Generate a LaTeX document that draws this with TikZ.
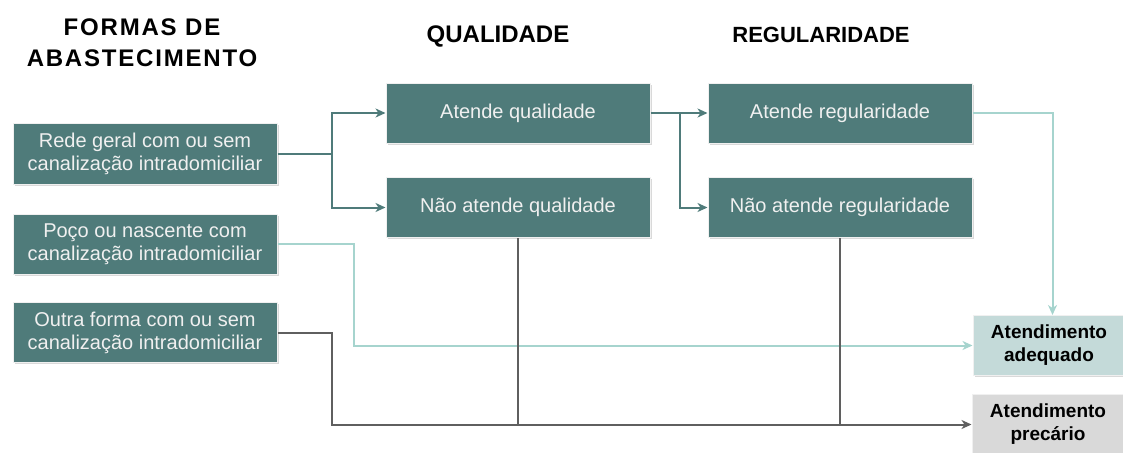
\documentclass[tikz,border=0pt]{standalone}
\usepackage{fontspec}
\setmainfont{Liberation Sans}
\usepackage{xcolor}
\usetikzlibrary{arrows.meta, shadows, calc}

\definecolor{boxteal}{HTML}{4F7B7A}
\definecolor{lineteal}{HTML}{A6D4CE}
\definecolor{okfill}{HTML}{C4DAD9}
\definecolor{badfill}{HTML}{D9D9D9}
\definecolor{lineGray}{HTML}{5F5F5F}

\begin{document}
\begin{tikzpicture}[
    x=1pt, y=-1pt,
    stage/.style={draw=white!88!gray, line width=1pt, fill=boxteal, text=white!94!black,
        align=center, minimum width=264pt, minimum height=60pt, inner sep=0pt,
        font=\fontsize{20}{23}\selectfont,
        drop shadow={shadow xshift=1.5pt, shadow yshift=-1.5pt, opacity=0.3, fill=gray}},
    result/.style={stage, text=black, minimum width=152pt, minimum height=60pt,
        font=\fontsize{19}{23}\selectfont\bfseries},
    header/.style={align=center, font=\fontsize{24}{31}\selectfont\bfseries},
    flow/.style={draw=boxteal, line width=2pt},
    okflow/.style={draw=lineteal, line width=2pt},
    badflow/.style={draw=lineGray, line width=2pt},
    tip/.style={-{Stealth[length=10pt, width=9pt, inset=3pt]}}
]
\useasboundingbox (0,0) rectangle (1123,452);

% column titles
\node[header] (hforma) at (142,43) {\addfontfeature{LetterSpace=7.5}FORMAS DE\\\addfontfeature{LetterSpace=7.5}ABASTECIMENTO};
\node[header] (hqual) at (498,36) {QUALIDADE};
\node[header, font=\fontsize{22}{28}\selectfont\bfseries] (hreg) at (821,35) {REGULARIDADE};

% supply forms
\node[stage, minimum height=61pt] (rede) at (145,153.5) {Rede geral com ou sem\\canalização intradomiciliar};
\node[stage] (poco) at (145,244) {Poço ou nascente com\\canalização intradomiciliar};
\node[stage] (outra) at (145,332.5) {Outra forma com ou sem\\canalização intradomiciliar};

% quality and regularity
\node[stage] (qual) at (518,113) {Atende qualidade};
\node[stage] (nqual) at (518,207.5) {Não atende qualidade};
\node[stage] (reg) at (840,113) {Atende regularidade};
\node[stage] (nreg) at (840,207.5) {Não atende regularidade};

% outcome
\node[result, fill=okfill] (adeq) at (1049,345.5) {Atendimento\\adequado};
\node[result, fill=badfill] (prec) at (1048,424.5) {Atendimento\\precário};

\coordinate (jA) at ($(rede.east)+(54,0)$);
\coordinate (jB) at ($(qual.east)+(29,0)$);
\coordinate (jC) at ($(reg.east)+(80,0)$);
\coordinate (jD) at ($(poco.east)+(76,0)$);
\coordinate (jE) at ($(outra.east)+(54,0)$);

\draw[flow] (rede.east) -- (jA);
\draw[flow, tip] (jA) |- (qual.west);
\draw[flow, tip] (jA) |- (nqual.west);
\draw[flow, tip] (qual.east) -- (reg.west);
\draw[flow, tip] (jB) |- (nreg.west);

\draw[okflow, tip] (reg.east) -- (jC) -- (jC |- adeq.north);
\draw[okflow, tip] (poco.east) -- (jD) |- (adeq.west);

\draw[badflow] (nqual.south) -- (nqual.south |- prec.west);
\draw[badflow] (nreg.south) -- (nreg.south |- prec.west);
\draw[badflow, tip] (outra.east) -- (jE) |- (prec.west);
\end{tikzpicture}
\end{document}
